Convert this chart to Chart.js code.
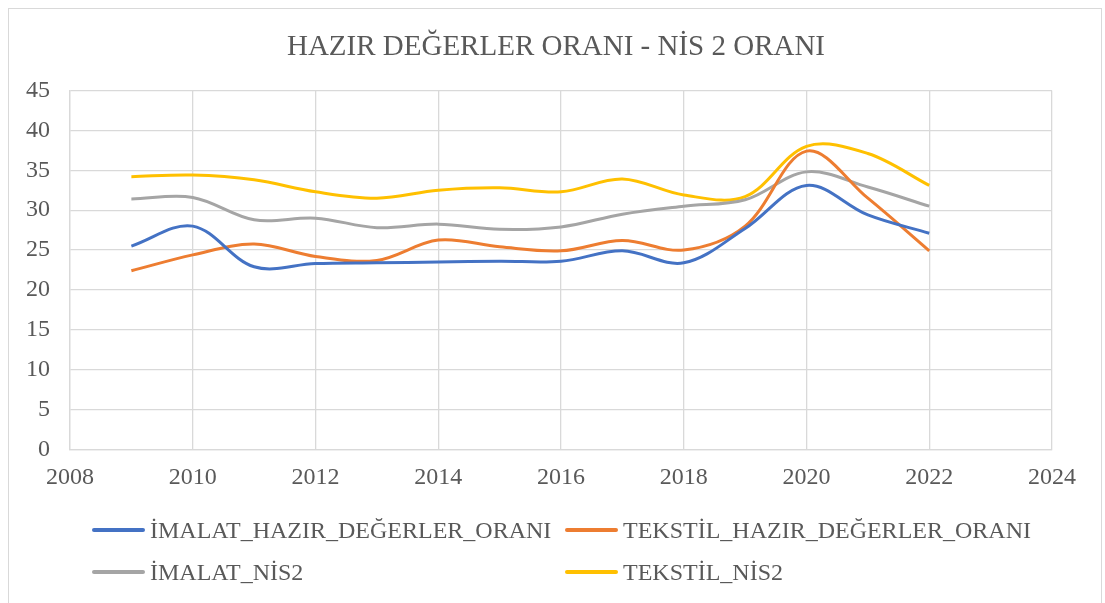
<!DOCTYPE html>
<html>
<head>
<meta charset="utf-8">
<script src="https://cdn.jsdelivr.net/npm/chart.js@4/dist/chart.umd.min.js"></script>
<style>
  html, body { margin: 0; padding: 0; background: #fff; }
  #wrap { position: relative; width: 1105px; height: 603px; overflow: hidden; }
  #frame { position: absolute; left: 8px; top: 8px; width: 1094px; height: 620px; border: 1px solid #d9d9d9; box-sizing: border-box; }
  canvas { position: absolute; left: 0; top: 0; }
  #title { position: absolute; left: 8px; width: 1096px; top: 27px; text-align: center; font: 29px "Liberation Serif", "Times New Roman", serif; color: #595959; line-height: 36px; white-space: nowrap; }
  .lg { position: absolute; font: 24px "Liberation Serif", "Times New Roman", serif; color: #595959; white-space: nowrap; line-height: 28px; }
  .lg i { position: absolute; left: -58px; top: 12px; width: 53px; height: 4px; border-radius: 2px; }
</style>
</head>
<body>
<div id="wrap">
  <div id="frame"></div>
  <canvas id="c" width="1105" height="603"></canvas>
  <div id="title"></div>
  <div id="legend"></div>
</div>
<script>
const titleText = "HAZIR DEĞERLER ORANI - NİS 2 ORANI";
const years = [2009, 2010, 2011, 2012, 2013, 2014, 2015, 2016, 2017, 2018, 2019, 2020, 2021, 2022];
const imalatHazir = [25.5, 28.0, 22.9, 23.3, 23.4, 23.5, 23.6, 23.6, 24.9, 23.4, 27.7, 33.1, 29.4, 27.1];
const tekstilHazir = [22.4, 24.4, 25.75, 24.2, 23.7, 26.25, 25.4, 24.9, 26.2, 25.0, 28.0, 37.4, 31.5, 24.9];
const imalatNis2 = [31.4, 31.6, 28.8, 29.0, 27.8, 28.25, 27.6, 27.9, 29.5, 30.5, 31.3, 34.8, 32.9, 30.5];
const tekstilNis2 = [34.2, 34.4, 33.8, 32.3, 31.5, 32.5, 32.8, 32.3, 33.9, 31.9, 31.7, 38.0, 37.1, 33.1];

const seriesNames = ["İMALAT_HAZIR_DEĞERLER_ORANI", "TEKSTİL_HAZIR_DEĞERLER_ORANI", "İMALAT_NİS2", "TEKSTİL_NİS2"];
const seriesColors = ["#4472c4", "#ed7d31", "#a5a5a5", "#ffc000"];
const seriesValues = [imalatHazir, tekstilHazir, imalatNis2, tekstilNis2];

const font = "'Liberation Serif', 'Times New Roman', serif";
const textColor = "#595959";
const gridColor = "#d9d9d9";

document.getElementById("title").textContent = titleText;

const datasets = seriesValues.map((vals, i) => ({
  label: seriesNames[i],
  data: vals.map((v, j) => ({ x: years[j], y: v })),
  borderColor: seriesColors[i],
  backgroundColor: seriesColors[i],
  borderWidth: 3,
  pointRadius: 0,
  tension: 0.35,
  fill: false,
}));

const chart = new Chart(document.getElementById("c"), {
  type: "line",
  data: { datasets },
  options: {
    responsive: false,
    animation: false,
    layout: { padding: { left: 8, right: 53, top: 90.5, bottom: 103.5 } },
    plugins: {
      legend: { display: false },
      tooltip: { enabled: false },
      title: { display: false },
    },
    scales: {
      x: {
        type: "linear",
        min: 2008,
        max: 2024,
        ticks: {
          stepSize: 2,
          color: textColor,
          padding: 14,
          font: { family: font, size: 24 },
          callback: (v) => String(v),
        },
        grid: { color: gridColor, lineWidth: 1.3, drawTicks: false },
        border: { color: gridColor, width: 1.3 },
        afterFit: (s) => { s.height = 50; },
      },
      y: {
        min: 0,
        max: 45,
        ticks: {
          stepSize: 5,
          color: textColor,
          padding: 20,
          font: { family: font, size: 24 },
        },
        grid: { color: gridColor, lineWidth: 1.3, drawTicks: false },
        border: { color: gridColor, width: 1.3 },
        afterFit: (s) => { s.width = 62; },
      },
    },
  },
});

// legend in two columns, like the original
const legendPos = [[150, 516], [623, 516], [150, 558], [623, 558]];
const legend = document.getElementById("legend");
chart.data.datasets.forEach((ds, i) => {
  const d = document.createElement("div");
  d.className = "lg";
  d.style.left = legendPos[i][0] + "px";
  d.style.top = legendPos[i][1] + "px";
  const sw = document.createElement("i");
  sw.style.background = ds.borderColor;
  d.appendChild(sw);
  d.appendChild(document.createTextNode(ds.label));
  legend.appendChild(d);
});
</script>
</body>
</html>
